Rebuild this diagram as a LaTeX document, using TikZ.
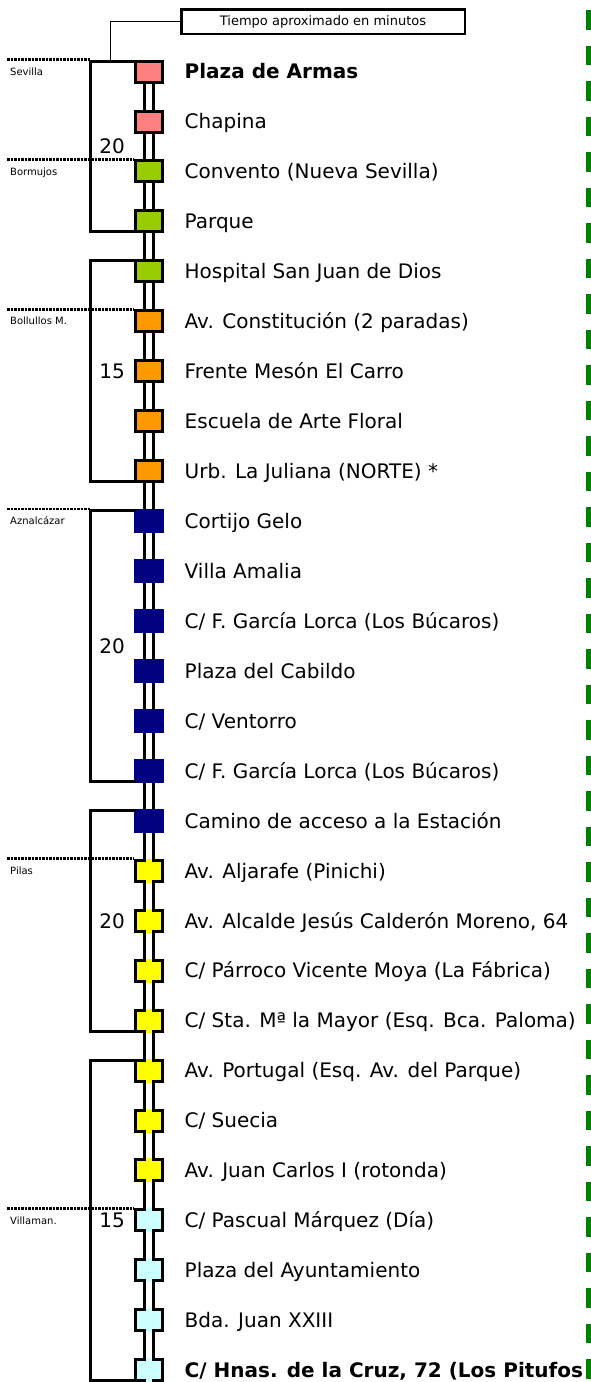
\documentclass[tikz,border=0pt]{standalone}
\usepackage{fontspec}
\setmainfont{DejaVu Sans}
\usepackage{xcolor}
\usepackage{tikz}
\usetikzlibrary{positioning,calc}

\definecolor{rosa}{RGB}{255,128,128}
\definecolor{verdeclaro}{RGB}{153,204,0}
\definecolor{naranja}{RGB}{255,153,0}
\definecolor{azul}{RGB}{0,0,128}
\definecolor{amarillo}{RGB}{255,255,0}
\definecolor{celeste}{RGB}{204,255,255}
\definecolor{verdelinea}{RGB}{0,128,0}

\tikzset{
  parada/.style={draw=black, line width=3pt, minimum width=27pt, minimum height=21pt, inner sep=0pt},
  oscura/.style={draw=none, fill=azul, minimum width=30pt, minimum height=24pt, outer sep=0pt},
  rotulo/.style={anchor=west, inner sep=0pt, text height=14.6pt, text depth=0pt, font=\fontsize{20}{24}\selectfont},
  minutos/.style={anchor=east, inner sep=0pt, text height=14.6pt, text depth=0pt, font=\fontsize{20}{24}\selectfont},
  pueblo/.style={anchor=west, inner sep=0pt, text height=7.3pt, text depth=0pt, font=\fontsize{10}{12}\selectfont},
  carril/.style={draw=black, line width=3pt, double=white, double distance=6pt},
  llave/.style={line width=3pt},
  punteada/.style={line width=2.5pt, dash pattern=on 2.5pt off 1pt}
}

\begin{document}
\begin{tikzpicture}[x=1pt,y=1pt,yscale=-1,xscale=1]
\useasboundingbox (0,0) rectangle (591,1382);
% Leyenda
\node (tiempo) [draw, line width=2.5pt, minimum width=283.5pt, minimum height=24.5pt, inner sep=0pt, font=\fontsize{13}{15}\selectfont] at (323,21.5) {Tiempo aproximado en minutos};
\coordinate (llave1) at (110.5,59.5);
\draw [line width=1pt] (tiempo.west) -| (llave1);
% Paradas
\node (s1) [parada, fill=rosa] at (149,71.5) {};
\node (s2) [parada, fill=rosa] at (149,121.5) {};
\node (s3) [parada, fill=verdeclaro] at (149,171.4) {};
\node (s4) [parada, fill=verdeclaro] at (149,221.4) {};
\node (s5) [parada, fill=verdeclaro] at (149,271.3) {};
\node (s6) [parada, fill=naranja] at (149,321.3) {};
\node (s7) [parada, fill=naranja] at (149,371.2) {};
\node (s8) [parada, fill=naranja] at (149,421.2) {};
\node (s9) [parada, fill=naranja] at (149,471.1) {};
\node (s10) [parada, oscura] at (149,521.1) {};
\node (s11) [parada, oscura] at (149,571) {};
\node (s12) [parada, oscura] at (149,621) {};
\node (s13) [parada, oscura] at (149,670.9) {};
\node (s14) [parada, oscura] at (149,720.9) {};
\node (s15) [parada, oscura] at (149,770.8) {};
\node (s16) [parada, oscura] at (149,820.8) {};
\node (s17) [parada, fill=amarillo] at (149,870.7) {};
\node (s18) [parada, fill=amarillo] at (149,920.7) {};
\node (s19) [parada, fill=amarillo] at (149,970.6) {};
\node (s20) [parada, fill=amarillo] at (149,1020.6) {};
\node (s21) [parada, fill=amarillo] at (149,1070.5) {};
\node (s22) [parada, fill=amarillo] at (149,1120.5) {};
\node (s23) [parada, fill=amarillo] at (149,1170.4) {};
\node (s24) [parada, fill=celeste] at (149,1220.4) {};
\node (s25) [parada, fill=celeste] at (149,1270.3) {};
\node (s26) [parada, fill=celeste] at (149,1320.3) {};
\node (s27) [parada, fill=celeste] at (149,1370.2) {};
% Carril
\foreach \i [evaluate=\i as \j using int(\i+1)] in {1,...,26}
  \draw [carril] (s\i) -- (s\j);
\foreach \n/\c in {17/amarillo,18/amarillo,19/amarillo,20/amarillo,21/amarillo,22/amarillo,23/amarillo,24/celeste,25/celeste,26/celeste,27/celeste}
  \fill [\c] ($(s\n.north)+(-3,0)$) rectangle ($(s\n.south)+(3,0)$);
% Nombres de las paradas
\node (t1) [rotulo, font=\fontsize{20}{24}\selectfont\bfseries] at (184.5,71.5) {Plaza de Armas};
\node (t2) [rotulo] at (184.5,121.5) {Chapina};
\node (t3) [rotulo] at (184.5,171.4) {Convento (Nueva Sevilla)};
\node (t4) [rotulo] at (184.5,221.4) {Parque};
\node (t5) [rotulo] at (184.5,271.3) {Hospital San Juan de Dios};
\node (t6) [rotulo] at (184.5,321.3) {Av. Constitución (2 paradas)};
\node (t7) [rotulo] at (184.5,371.2) {Frente Mesón El Carro};
\node (t8) [rotulo] at (184.5,421.2) {Escuela de Arte Floral};
\node (t9) [rotulo] at (184.5,471.1) {Urb. La Juliana (NORTE) *};
\node (t10) [rotulo] at (184.5,521.1) {Cortijo Gelo};
\node (t11) [rotulo] at (184.5,571) {Villa Amalia};
\node (t12) [rotulo] at (184.5,621) {C/ F. García Lorca (Los Búcaros)};
\node (t13) [rotulo] at (184.5,670.9) {Plaza del Cabildo};
\node (t14) [rotulo] at (184.5,720.9) {C/ Ventorro};
\node (t15) [rotulo] at (184.5,770.8) {C/ F. García Lorca (Los Búcaros)};
\node (t16) [rotulo] at (184.5,820.8) {Camino de acceso a la Estación};
\node (t17) [rotulo] at (184.5,870.7) {Av. Aljarafe (Pinichi)};
\node (t18) [rotulo] at (184.5,920.7) {Av. Alcalde Jesús Calderón Moreno, 64};
\node (t19) [rotulo] at (184.5,970.6) {C/ Párroco Vicente Moya (La Fábrica)};
\node (t20) [rotulo] at (184.5,1020.6) {C/ Sta. Mª la Mayor (Esq. Bca. Paloma)};
\node (t21) [rotulo] at (184.5,1070.5) {Av. Portugal (Esq. Av. del Parque)};
\node (t22) [rotulo] at (184.5,1120.5) {C/ Suecia};
\node (t23) [rotulo] at (184.5,1170.4) {Av. Juan Carlos I (rotonda)};
\node (t24) [rotulo] at (184.5,1220.4) {C/ Pascual Márquez (Día)};
\node (t25) [rotulo] at (184.5,1270.3) {Plaza del Ayuntamiento};
\node (t26) [rotulo] at (184.5,1320.3) {Bda. Juan XXIII};
\node (t27) [rotulo, font=\fontsize{20}{24}\selectfont\bfseries] at (184.5,1370.2) {C/ Hnas. de la Cruz, 72 (Los Pitufos};
% Tramos
\draw [llave] ($(s1.north west)+(1.5,1.5)$) -| (90.5,140) |- ($(s4.south west)+(1.5,-1.5)$);
\draw [llave] ($(s5.north west)+(1.5,1.5)$) -| (90.5,370) |- ($(s9.south west)+(1.5,-1.5)$);
\draw [llave] ($(s10.north west)+(1.5,1.5)$) -| (90.5,640) |- ($(s15.south west)+(1.5,-1.5)$);
\draw [llave] ($(s16.north west)+(1.5,1.5)$) -| (90.5,920) |- ($(s20.south west)+(1.5,-1.5)$);
\draw [llave] ($(s21.north west)+(1.5,1.5)$) -| (90.5,1220) |- ($(s27.south west)+(1.5,-1.5)$);
\node (m1) [minutos] at (125,146.4) {20};
\node (m2) [minutos] at (125,371.2) {15};
\node (m3) [minutos] at (125,646) {20};
\node (m4) [minutos] at (125,920.7) {20};
\node (m5) [minutos] at (125,1220.4) {15};
% Municipios
\draw [punteada] (s1.north west -| 7,0) -- (s1.north west -| 90.5,0);
\draw [punteada] (s3.north west -| 7,0) -- (s3.north west);
\draw [punteada] (s6.north west -| 7,0) -- (s6.north west);
\draw [punteada] (s10.north west -| 7,0) -- (s10.north west -| 90.5,0);
\draw [punteada] (s17.north west -| 7,0) -- (s17.north west);
\draw [punteada] (s24.north west -| 7,0) -- (s24.north west);
\node (sevilla) [pueblo] at (10,71.5) {Sevilla};
\node (bormujos) [pueblo] at (10,171.4) {Bormujos};
\node (bollullos) [pueblo] at (10,321.3) {Bollullos M.};
\node (aznalcazar) [pueblo] at (10,521.1) {Aznalcázar};
\node (pilas) [pueblo] at (10,870.7) {Pilas};
\node (villamanrique) [pueblo] at (10,1220.4) {Villaman.};
% Linea verde
\draw [verdelinea, line width=5pt, dash pattern=on 19.5pt off 16pt] (588.5,10) -- (588.5,1382);
\end{tikzpicture}
\end{document}
